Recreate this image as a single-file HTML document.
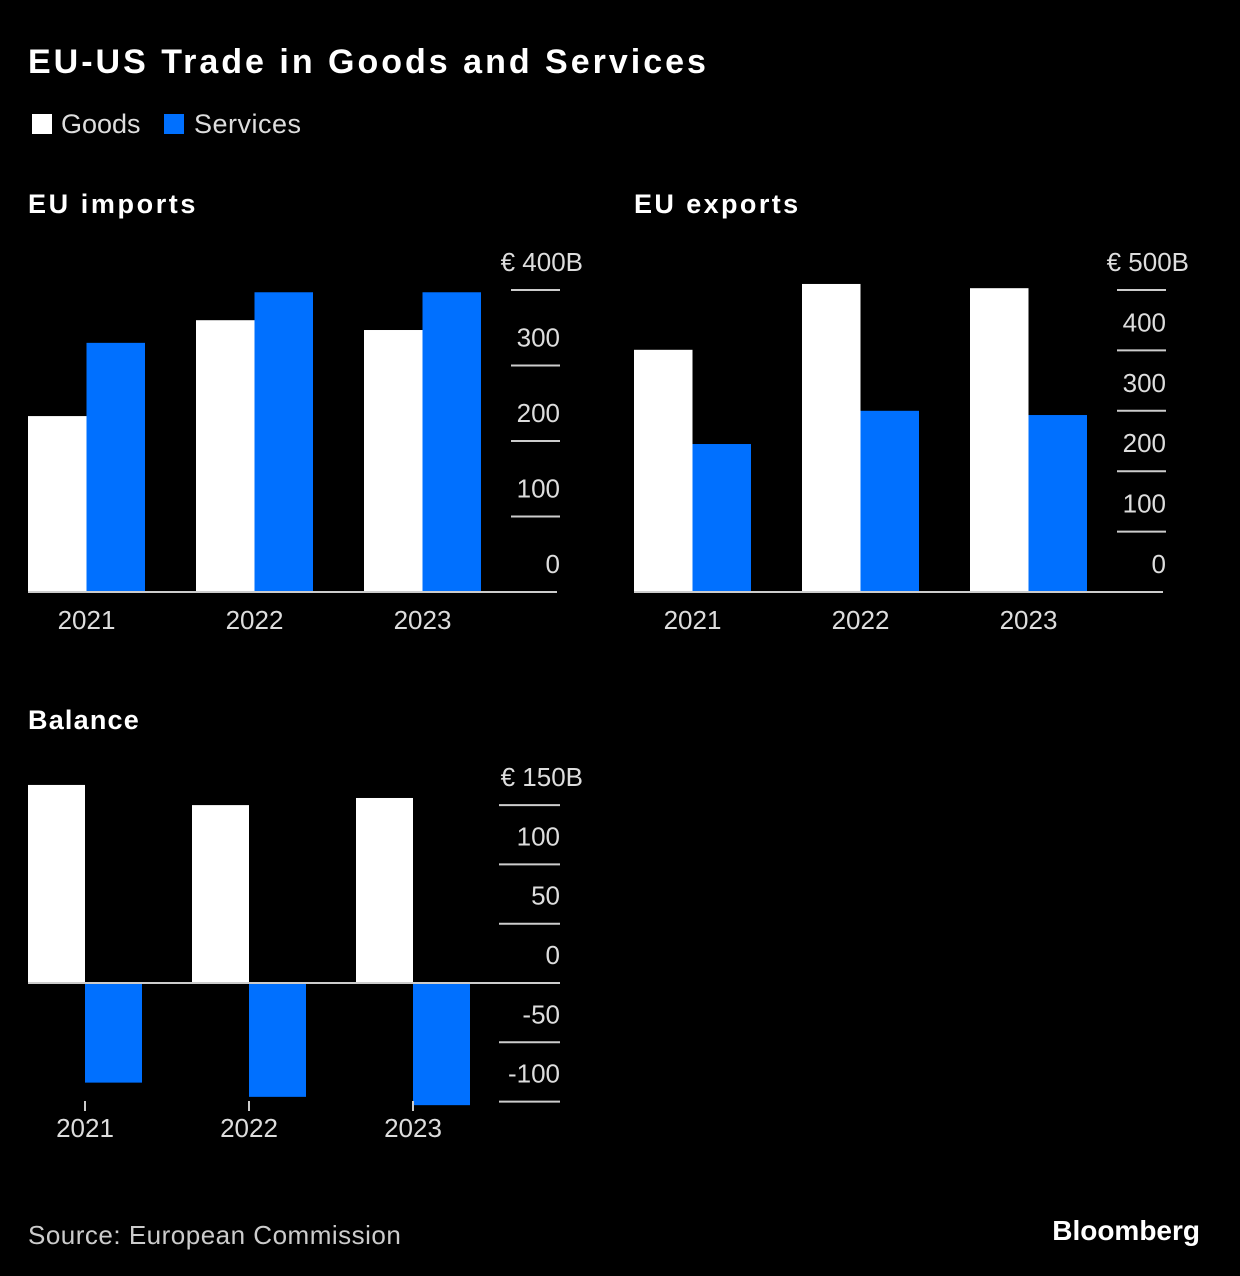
<!DOCTYPE html>
<html><head><meta charset="utf-8"><style>
body{margin:0;background:#000;width:1240px;height:1276px;overflow:hidden;font-family:"Liberation Sans",sans-serif;color:#fff}
svg{position:absolute;left:0;top:0}
</style></head><body>
<svg width="1240" height="1276" id="svg">
<text x="28" y="73" font-size="34" font-weight="bold" fill="#fff" letter-spacing="3">EU-US Trade in Goods and Services</text>
<rect x="32" y="114" width="20" height="20" fill="#fff"/>
<text x="61" y="133" font-size="27" fill="#ddd">Goods</text>
<rect x="164" y="114" width="20" height="20" fill="#0070ff"/>
<text x="194" y="133" font-size="27" fill="#ddd" letter-spacing="0.5">Services</text>
<text x="28" y="213" font-size="27" font-weight="bold" fill="#fff" letter-spacing="2.6">EU imports</text>
<text x="634" y="213" font-size="27" font-weight="bold" fill="#fff" letter-spacing="2.4">EU exports</text>
<text x="28" y="729" font-size="27" font-weight="bold" fill="#fff" letter-spacing="1.2">Balance</text>
<text x="28" y="1244" font-size="26" fill="#ccc" letter-spacing="0.5">Source: European Commission</text>
<text x="1200" y="1240" font-size="28" font-weight="bold" fill="#fff" text-anchor="end">Bloomberg</text>
<g id="g"></g>
</svg>
<script>
const years=["2021","2022","2023"];
const impGoods=[233,360,347];
const impServices=[330,397,397];
const impTicks=[0,100,200,300,400];
const expGoods=[401,510,503];
const expServices=[245,300,293];
const expTicks=[0,100,200,300,400,500];
const balGoods=[167,150,156];
const balServices=[-84,-96,-103];
const balTicks=[-100,-50,0,50,100,150];
const NS="http://www.w3.org/2000/svg";
const g=document.getElementById('g');
function mk(t,a,txt){const e=document.createElementNS(NS,t);for(const k in a)e.setAttribute(k,a[k]);if(txt!==undefined)e.textContent=txt;g.appendChild(e);return e;}
function panel(o){
  const y=v=>o.zeroY-(v-o.min)*o.scale;
  o.ticks.forEach((t,i)=>{
    const yy=y(t);
    if(t!==0||o.min<0){const l=mk('line',{x1:o.gx1,x2:o.gx2,y1:yy,y2:yy,stroke:'#ccc','stroke-width':2});
    
    }
    const last=i===o.ticks.length-1;
    const lab=last?(o.prefix+' '+t+'B'):String(t);
    const tx=mk('text',{x:last?o.gx2+23:o.gx2,y:yy-(t===0&&o.min===0?19:19),'font-size':26,fill:'#ddd','text-anchor':'end'},lab);
    
    
  });
  const base=y(0);
  years.forEach((yr,i)=>{
    const x0=o.x0+i*o.step;
    [[o.goods[i],'#fff',0],[o.serv[i],'#0070ff',o.bw]].forEach(([v,c,dx])=>{
      const top=Math.min(y(v),base),h=Math.abs(y(v)-base);
      const r=mk('rect',{x:x0+dx,y:top,width:o.bw,height:h,fill:c});
      
      
    });
    const lx=x0+o.bw;
    const tx=mk('text',{x:lx,y:o.labY,'font-size':26,fill:'#ddd','text-anchor':'middle'},yr);
    
    
    if(o.tick){const tl=mk('line',{x1:lx,x2:lx,y1:o.tickY,y2:o.tickY+10,stroke:'#ccc','stroke-width':2});
    
    }
  });
  const bl=mk('line',{x1:28+o.bx,x2:o.bx2,y1:base,y2:base,stroke:'#ccc','stroke-width':2});
  
  
}
panel({min:0,zeroY:592,scale:0.755,ticks:impTicks,gx1:511,gx2:560,prefix:'€',goods:impGoods,serv:impServices,x0:28,step:168,bw:58.5,labY:629,bx:0,bx2:557});
panel({min:0,zeroY:592,scale:0.604,ticks:expTicks,gx1:1117,gx2:1166,prefix:'€',goods:expGoods,serv:expServices,x0:634,step:168,bw:58.5,labY:629,bx:606,bx2:1163});
panel({min:0,zeroY:983,scale:1.186,ticks:balTicks,gx1:499,gx2:560,prefix:'€',goods:balGoods,serv:balServices,x0:28,step:164,bw:57,labY:1137,bx:0,bx2:560,tick:true,tickY:1101});
</script>
</body></html>
